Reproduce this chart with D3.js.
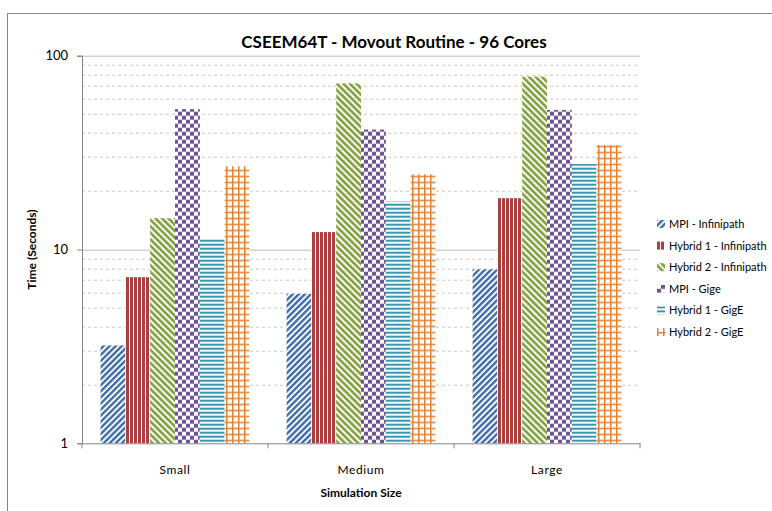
<!DOCTYPE html>
<html>
<head>
<meta charset="utf-8">
<script src="https://cdn.jsdelivr.net/npm/d3@7"></script>
<style>
  body { margin: 0; background: #fff; }
  text { font-family: Lato, "Open Sans", sans-serif; fill: #000; }
</style>
</head>
<body>
<svg id="chart" width="772" height="511"></svg>
<script>
// categories and series
const categories = ["Small", "Medium", "Large"];
const seriesNames = [
  "MPI - Infinipath",
  "Hybrid 1 - Infinipath",
  "Hybrid 2 - Infinipath",
  "MPI - Gige",
  "Hybrid 1 - GigE",
  "Hybrid 2 - GigE"
];
// values per series, in category order (Small, Medium, Large)
const mpiInfinipath = [3.2, 5.9, 7.9];
const hybrid1Infinipath = [7.2, 12.3, 18.4];
const hybrid2Infinipath = [14.5, 72, 78];
const mpiGige = [53, 41.6, 52.5];
const hybrid1Gige = [11.3, 17.7, 27.6];
const hybrid2Gige = [26.9, 24.4, 34.6];
const seriesValues = [mpiInfinipath, hybrid1Infinipath, hybrid2Infinipath, mpiGige, hybrid1Gige, hybrid2Gige];
const yTicks = [1, 10, 100];

const colors = ["#3F6DAA", "#A9403D", "#84A444", "#6F5496", "#3797AF", "#E5802F"];

const svg = d3.select("#chart");
const margin = { top: 55.7, left: 82, right: 132, bottom: 67.7 };
const width = 772 - margin.left - margin.right;
const height = 511 - margin.top - margin.bottom;

// outer chart border
svg.append("rect")
  .attr("x", 7.5).attr("y", 13.5)
  .attr("width", 780).attr("height", 520)
  .attr("fill", "none").attr("stroke", "#868686");

// fill patterns
const defs = svg.append("defs");
function stripePattern(id, color, size, thick, angle) {
  const p = defs.append("pattern").attr("id", id)
    .attr("patternUnits", "userSpaceOnUse")
    .attr("width", size).attr("height", size)
    .attr("patternTransform", "rotate(" + angle + ")");
  p.append("rect").attr("width", size).attr("height", size).attr("fill", "#fff");
  p.append("rect").attr("width", thick).attr("height", size).attr("fill", color)
    .attr("shape-rendering", angle % 90 === 0 ? "crispEdges" : "auto");
}
stripePattern("pat0", colors[0], 4.3, 2.4, 45);
stripePattern("pat1", colors[1], 4, 3, 0);
stripePattern("pat2", colors[2], 4.6, 2.7, -45);
// checker
(function () {
  const p = defs.append("pattern").attr("id", "pat3")
    .attr("patternUnits", "userSpaceOnUse").attr("width", 8).attr("height", 8);
  p.append("rect").attr("width", 8).attr("height", 8).attr("fill", "#fff");
  p.append("rect").attr("width", 4).attr("height", 4).attr("fill", colors[3]);
  p.append("rect").attr("x", 4).attr("y", 4).attr("width", 4).attr("height", 4).attr("fill", colors[3]);
})();
stripePattern("pat4", colors[4], 4, 2, 90);
// grid
(function () {
  const p = defs.append("pattern").attr("id", "pat5")
    .attr("patternUnits", "userSpaceOnUse").attr("width", 6).attr("height", 6);
  p.append("rect").attr("width", 6).attr("height", 6).attr("fill", "#fff");
  p.append("rect").attr("width", 1.5).attr("height", 6).attr("fill", colors[5]);
  p.append("rect").attr("width", 6).attr("height", 1.5).attr("fill", colors[5]);
})();

const g = svg.append("g")
  .attr("transform", "translate(" + margin.left + "," + margin.top + ")");

const y = d3.scaleLog().domain([1, 100]).range([height, 0]);
const x0 = d3.scaleBand().domain(categories).range([0, width]);
const x1 = d3.scaleBand().domain(seriesNames).range([0, x0.bandwidth()])
  .paddingInner(0).paddingOuter(0.75);

// gridlines
const minor = [];
[1, 10].forEach(d => { for (let k = 2; k <= 9; k++) minor.push(d * k); });
g.selectAll(".minor").data(minor).enter().append("line")
  .attr("x1", 0).attr("x2", width)
  .attr("y1", d => Math.round(y(d)) + 0.5).attr("y2", d => Math.round(y(d)) + 0.5)
  .attr("stroke", "#C8C8C8").attr("stroke-dasharray", "3,3");
g.selectAll(".major").data(yTicks.slice(1)).enter().append("line")
  .attr("x1", 0).attr("x2", width)
  .attr("y1", d => Math.round(y(d)) + 0.5).attr("y2", d => Math.round(y(d)) + 0.5)
  .attr("stroke", "#BEBEBE");

// bars
const groups = g.selectAll(".grp").data(categories).enter().append("g")
  .attr("transform", d => "translate(" + x0(d) + ",0)");
groups.selectAll("rect")
  .data((c, ci) => seriesNames.map((s, si) => ({ s: s, si: si, v: seriesValues[si][ci] })))
  .enter().append("rect")
  .attr("x", d => x1(d.s))
  .attr("width", x1.bandwidth())
  .attr("y", d => y(d.v))
  .attr("height", d => height - y(d.v))
  .attr("fill", d => "url(#pat" + d.si + ")");

// y axis
const yAxis = g.append("g")
  .call(d3.axisLeft(y).tickValues(yTicks).tickFormat(d3.format("d")).tickSize(5).tickPadding(9));
yAxis.select(".domain").attr("stroke", "#868686");
yAxis.selectAll(".tick line").attr("stroke", "#868686");
yAxis.selectAll("text").style("font-size", "13px").style("font-family", "Lato, sans-serif");

// x axis
const xAxis = g.append("g").attr("transform", "translate(0," + height + ")")
  .call(d3.axisBottom(x0).tickSize(0).tickPadding(22));
xAxis.select(".domain").attr("stroke", "#868686");
xAxis.selectAll("text").style("font-size", "12px").style("letter-spacing", "0.6px")
  .style("font-family", "Lato, sans-serif");
// category separator ticks
g.selectAll(".xtick").data(d3.range(categories.length + 1)).enter().append("line")
  .attr("x1", i => i * x0.step()).attr("x2", i => i * x0.step())
  .attr("y1", height).attr("y2", height + 5)
  .attr("stroke", "#868686");

// titles
svg.append("text")
  .attr("x", 394).attr("y", 48)
  .attr("text-anchor", "middle")
  .style("font-size", "17px").style("font-weight", "bold")
  .text("CSEEM64T - Movout Routine - 96 Cores");

svg.append("text")
  .attr("transform", "translate(36," + (margin.top + height / 2) + ") rotate(-90)")
  .attr("text-anchor", "middle")
  .style("font-size", "12px").style("font-weight", "bold")
  .text("Time (Seconds)");

svg.append("text")
  .attr("x", margin.left + width / 2).attr("y", 497)
  .attr("text-anchor", "middle")
  .style("font-size", "12px").style("font-weight", "bold")
  .text("Simulation Size");

// legend
const legend = svg.append("g").attr("transform", "translate(657,224)");
const items = legend.selectAll("g").data(seriesNames).enter().append("g")
  .attr("transform", (d, i) => "translate(0," + i * 21.6 + ")");
items.append("rect")
  .attr("x", 0).attr("y", -4).attr("width", 8).attr("height", 8)
  .attr("fill", (d, i) => "url(#pat" + i + ")");
items.append("text")
  .attr("x", 12).attr("y", 4)
  .style("font-size", "11px")
  .text(d => d);
</script>
</body>
</html>
